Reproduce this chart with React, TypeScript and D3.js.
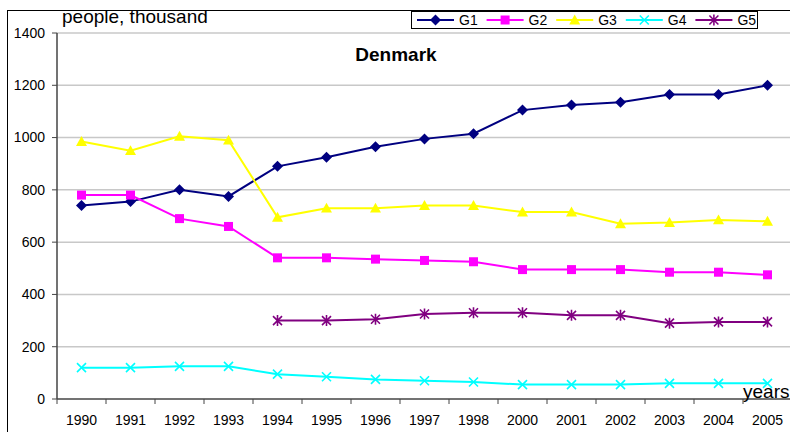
import React from "react";
import * as d3 from "d3";

const years = ["1990","1991","1992","1993","1994","1995","1996","1997","1998","2000","2001","2002","2003","2004","2005"];
const g1 = [740, 755, 800, 775, 890, 925, 965, 995, 1015, 1105, 1125, 1135, 1165, 1165, 1200];
const g2 = [780, 780, 690, 660, 540, 540, 535, 530, 525, 495, 495, 495, 485, 485, 475];
const g3 = [985, 950, 1005, 990, 695, 730, 730, 740, 740, 715, 715, 670, 675, 685, 680];
const g4 = [120, 120, 125, 125, 95, 85, 75, 70, 65, 55, 55, 55, 60, 60, 60];
const g5 = [null, null, null, null, 300, 300, 305, 325, 330, 330, 320, 320, 290, 295, 295];
const yTicks = [0, 200, 400, 600, 800, 1000, 1200, 1400];
const seriesNames = ["G1", "G2", "G3", "G4", "G5"];
const seriesColors = ["#000080", "#FF00FF", "#FFFF00", "#00FFFF", "#800080"];
const seriesMarkers = ["diamond", "square", "triangle", "x", "star"];

const W = 790, H = 432;
const left = 57, right = 792, top = 33, bottom = 399;
const font = "Liberation Sans, Arial, sans-serif";

function Marker({ type, x, y, color }: { type: string; x: number; y: number; color: string }) {
  if (type === "diamond") {
    const s = 5.5;
    return <path d={`M${x},${y - s}L${x + s},${y}L${x},${y + s}L${x - s},${y}Z`} fill={color} />;
  }
  if (type === "square") {
    const s = 4.5;
    return <rect x={x - s} y={y - s} width={2 * s} height={2 * s} fill={color} />;
  }
  if (type === "triangle") {
    const s = 5.5;
    return <path d={`M${x},${y - s}L${x + s},${y + s * 0.8}L${x - s},${y + s * 0.8}Z`} fill={color} />;
  }
  if (type === "x") {
    const s = 4.5;
    return <path d={`M${x - s},${y - s}L${x + s},${y + s}M${x + s},${y - s}L${x - s},${y + s}`} stroke={color} strokeWidth={1.6} />;
  }
  const s = 4.5;
  return <path d={`M${x - s},${y - s}L${x + s},${y + s}M${x + s},${y - s}L${x - s},${y + s}M${x},${y - s - 1}L${x},${y + s + 1}`} stroke={color} strokeWidth={1.6} />;
}

export default function App() {
  const x = d3.scaleBand<string>().domain(years).range([left, right]);
  const y = d3.scaleLinear().domain([0, 1400]).range([bottom, top]);
  const data = [g1, g2, g3, g4, g5];
  const line = d3.line<number | null>()
    .defined((d) => d != null)
    .x((_, i) => (x(years[i]) as number) + x.bandwidth() / 2)
    .y((d) => y(d as number));

  return (
    <svg width={W} height={H} style={{ position: "fixed", left: 0, top: 0, background: "#fff" }} fontFamily={font}>
      <rect x={7.5} y={10.5} width={820} height={440} fill="#fff" stroke="#000" strokeWidth={1} />
      {yTicks.map((t) => (
        <g key={t}>
          {t > 0 && <line x1={left} x2={W} y1={y(t)} y2={y(t)} stroke="#c8c8c8" strokeWidth={1.5} />}
          <line x1={left - 5} x2={left} y1={y(t)} y2={y(t)} stroke="#444" strokeWidth={1} />
          <text x={45} y={y(t)} dy="0.35em" textAnchor="end" fontSize={14} fill="#000">{t}</text>
        </g>
      ))}
      <line x1={left} x2={left} y1={top} y2={bottom} stroke="#444" strokeWidth={1.5} />
      <line x1={left} x2={W} y1={bottom} y2={bottom} stroke="#444" strokeWidth={1.5} />
      {years.map((yr) => (
        <g key={yr}>
          <line x1={x(yr) as number} x2={x(yr) as number} y1={bottom} y2={bottom + 5} stroke="#444" strokeWidth={1} />
          <text x={(x(yr) as number) + x.bandwidth() / 2} y={425} textAnchor="middle" fontSize={14} fill="#000">{yr}</text>
        </g>
      ))}
      {data.map((vals, si) => (
        <g key={si}>
          <path d={line(vals) as string} fill="none" stroke={seriesColors[si]} strokeWidth={2} />
          {vals.map((v, i) => v == null ? null : (
            <Marker key={i} type={seriesMarkers[si]} x={(x(years[i]) as number) + x.bandwidth() / 2} y={y(v)} color={seriesColors[si]} />
          ))}
        </g>
      ))}
      <text x={62} y={23} fontSize={19} fill="#000">people, thousand</text>
      <text x={396} y={61} fontSize={19} fontWeight="bold" textAnchor="middle" fill="#000">Denmark</text>
      <text x={743} y={398} fontSize={19} fill="#000">years</text>
      <rect x={411.5} y={11.5} width={346} height={17} fill="#fff" stroke="#000" strokeWidth={1} />
      {seriesNames.map((n, i) => {
        const lx = 417 + i * 69.6;
        return (
          <g key={n}>
            <line x1={lx} x2={lx + 37} y1={20} y2={20} stroke={seriesColors[i]} strokeWidth={2} />
            <Marker type={seriesMarkers[i]} x={lx + 18.5} y={20} color={seriesColors[i]} />
            <text x={lx + 42} y={20} dy="0.36em" fontSize={14} fill="#000">{n}</text>
          </g>
        );
      })}
    </svg>
  );
}
